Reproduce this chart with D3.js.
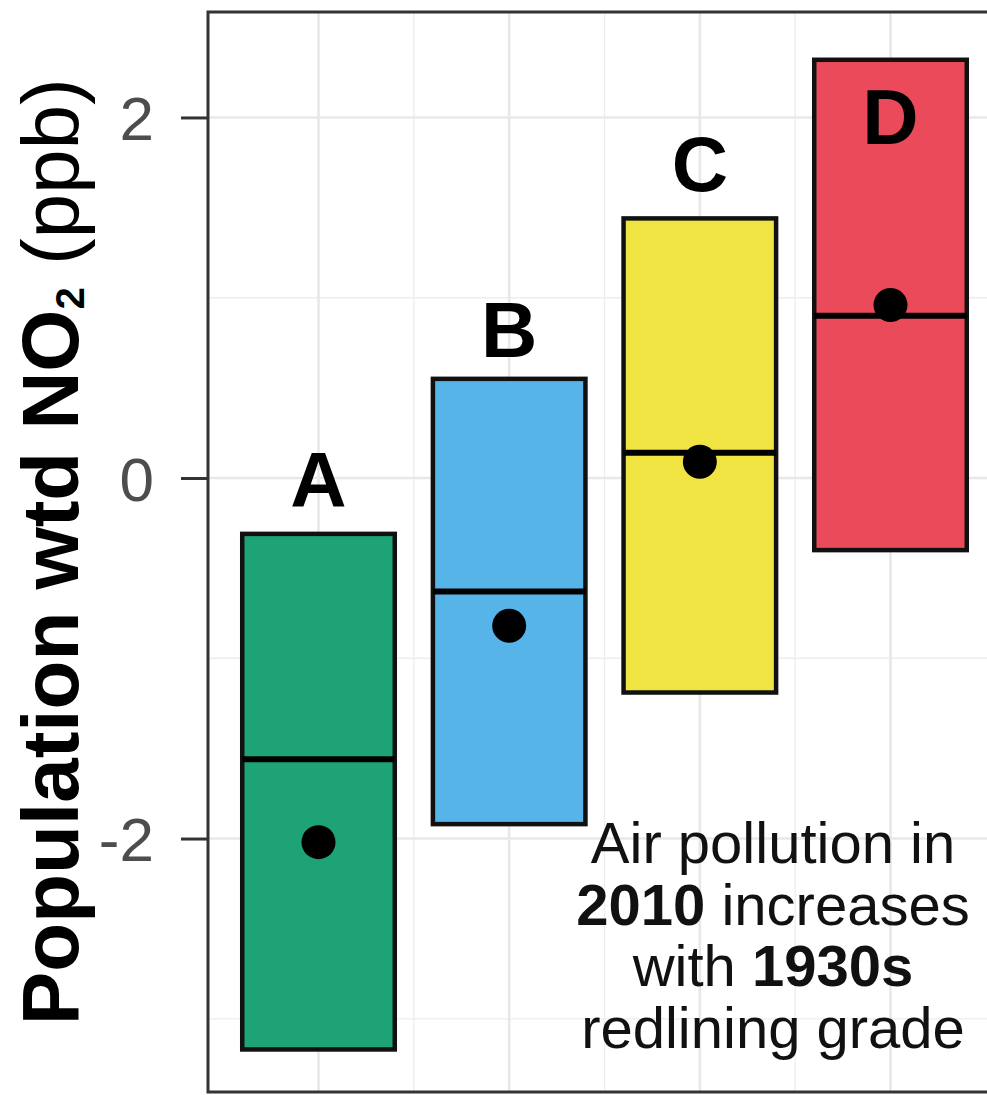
<!DOCTYPE html>
<html>
<head>
<meta charset="utf-8">
<script src="https://cdn.jsdelivr.net/npm/d3@7"></script>
<style>
  html, body { margin: 0; padding: 0; background: #fff; }
  text { font-family: "Liberation Sans", Arial, Helvetica, sans-serif; }
</style>
</head>
<body>
<svg id="chart" width="987" height="1095"></svg>
<script>
// redlining grade groups
const categories = ['A', 'B', 'C', 'D'];
const lower = [-3.17, -1.92, -1.19, -0.40];
const upper = [-0.31, 0.55, 1.44, 2.32];
const median = [-1.56, -0.63, 0.14, 0.90];
const mean = [-2.02, -0.82, 0.09, 0.96];
const labelPos = [-0.16, 0.67, 1.59, 1.85];
const fills = ['#1ea376', '#56b4e9', '#f0e442', '#eb4a5a'];

const yTicks = [-2, 0, 2];
const yMinor = [-3, -1, 1];
const yDomain = [-3.406, 2.585];

const noteLines = [
  [{ t: 'Air pollution in', b: false }],
  [{ t: '2010', b: true }, { t: ' increases', b: false }],
  [{ t: 'with ', b: false }, { t: '1930s', b: true }],
  [{ t: 'redlining grade', b: false }]
];

const panel = { left: 208, right: 1012, top: 12, bottom: 1092 };

const svg = d3.select('#chart');

const x = d3.scalePoint()
  .domain(categories)
  .range([318.5, 890.5]);
const step = x.step();
const barW = step * 0.8;

const y = d3.scaleLinear()
  .domain(yDomain)
  .range([panel.bottom, panel.top]);

const rows = categories.map((c, i) => ({
  cat: c, lo: lower[i], hi: upper[i], med: median[i], mean: mean[i],
  lab: labelPos[i], fill: fills[i]
}));

// grid
const grid = svg.append('g');
const xMinor = categories.slice(0, -1).map((c) => x(c) + step / 2);

grid.selectAll('.hminor').data(yMinor).join('line')
  .attr('x1', panel.left).attr('x2', panel.right)
  .attr('y1', (d) => y(d)).attr('y2', (d) => y(d))
  .attr('stroke', '#ededed').attr('stroke-width', 1.3);
grid.selectAll('.vminor').data(xMinor).join('line')
  .attr('x1', (d) => d).attr('x2', (d) => d)
  .attr('y1', panel.top).attr('y2', panel.bottom)
  .attr('stroke', '#ededed').attr('stroke-width', 1.3);
grid.selectAll('.hmajor').data(yTicks).join('line')
  .attr('x1', panel.left).attr('x2', panel.right)
  .attr('y1', (d) => y(d)).attr('y2', (d) => y(d))
  .attr('stroke', '#e8e8e8').attr('stroke-width', 2.6);
grid.selectAll('.vmajor').data(categories).join('line')
  .attr('x1', (d) => x(d)).attr('x2', (d) => x(d))
  .attr('y1', panel.top).attr('y2', panel.bottom)
  .attr('stroke', '#e8e8e8').attr('stroke-width', 2.6);

// boxes
const g = svg.append('g');
g.selectAll('rect.box').data(rows).join('rect')
  .attr('class', 'box')
  .attr('x', (d) => x(d.cat) - barW / 2)
  .attr('width', barW)
  .attr('y', (d) => y(d.hi))
  .attr('height', (d) => y(d.lo) - y(d.hi))
  .attr('fill', (d) => d.fill)
  .attr('stroke', '#111')
  .attr('stroke-width', 4.5);

g.selectAll('line.med').data(rows).join('line')
  .attr('class', 'med')
  .attr('x1', (d) => x(d.cat) - barW / 2)
  .attr('x2', (d) => x(d.cat) + barW / 2)
  .attr('y1', (d) => y(d.med)).attr('y2', (d) => y(d.med))
  .attr('stroke', '#000').attr('stroke-width', 6);

g.selectAll('circle.mean').data(rows).join('circle')
  .attr('class', 'mean')
  .attr('cx', (d) => x(d.cat))
  .attr('cy', (d) => y(d.mean))
  .attr('r', 17)
  .attr('fill', '#000');

g.selectAll('text.lab').data(rows).join('text')
  .attr('class', 'lab')
  .attr('x', (d) => x(d.cat))
  .attr('y', (d) => y(d.lab))
  .attr('text-anchor', 'middle')
  .attr('font-size', 78)
  .attr('font-weight', 'bold')
  .attr('fill', '#000')
  .text((d) => d.cat);

// note
const note = svg.append('text')
  .attr('x', 773)
  .attr('text-anchor', 'middle')
  .attr('font-size', 58)
  .attr('fill', '#111');
noteLines.forEach((parts, i) => {
  parts.forEach((p, j) => {
    const ts = note.append('tspan')
      .attr('font-weight', p.b ? 'bold' : 'normal')
      .text(p.t);
    if (j === 0) ts.attr('x', 773).attr('y', 863 + i * 61.5);
  });
});

// panel border
svg.append('rect')
  .attr('x', panel.left).attr('y', panel.top)
  .attr('width', panel.right - panel.left)
  .attr('height', panel.bottom - panel.top)
  .attr('fill', 'none')
  .attr('stroke', '#333')
  .attr('stroke-width', 3);

// y axis
const yAxis = svg.append('g')
  .attr('transform', `translate(${panel.left},0)`)
  .call(d3.axisLeft(y).tickValues(yTicks).tickSize(27).tickPadding(27).tickFormat((d) => String(d)));
yAxis.select('.domain').remove();
yAxis.selectAll('.tick line').attr('stroke', '#333').attr('stroke-width', 3);
yAxis.selectAll('.tick text')
  .attr('font-size', 62)
  .attr('fill', '#4d4d4d')
  .attr('font-family', '"Liberation Sans", Arial, sans-serif')
  .attr('dy', '0.36em');

// y title
const title = svg.append('text')
  .attr('transform', 'translate(78,1025) rotate(-90)')
  .attr('text-anchor', 'start')
  .attr('font-size', 80)
  .attr('fill', '#000');
title.append('tspan').attr('font-weight', 'bold').text('Population wtd NO');
title.append('tspan').attr('font-weight', 'bold').attr('font-size', 40).attr('dy', 6).text('2');
title.append('tspan').attr('dy', -6).text(' (ppb)');
</script>
</body>
</html>
